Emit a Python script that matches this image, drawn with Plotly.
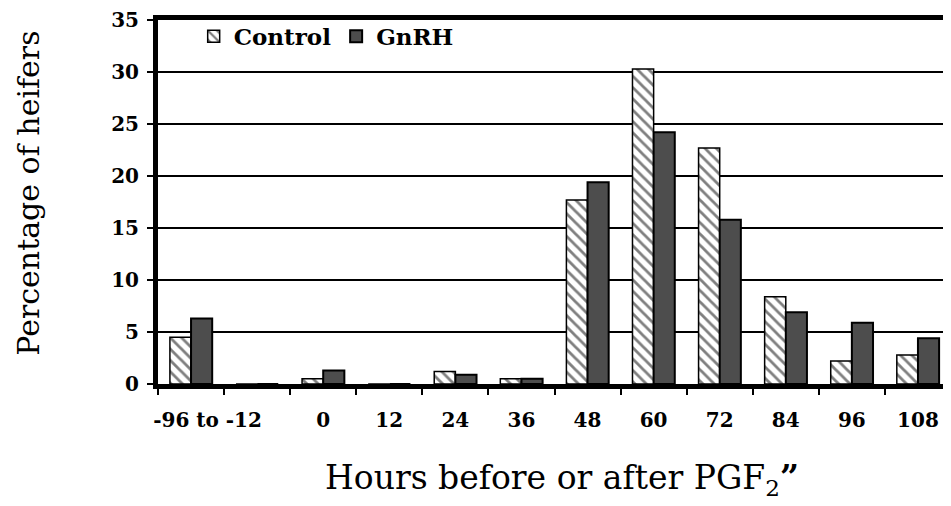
import plotly.graph_objects as go

# Category slots (one slot between "-96 to -12" and "0" is empty)
slots = [0, 1, 2, 3, 4, 5, 6, 7, 8, 9, 10, 11]
control = [4.5, 0, 0.5, 0, 1.2, 0.5, 17.7, 30.3, 22.7, 8.4, 2.2, 2.8]
gnrh = [6.3, 0, 1.3, 0, 0.9, 0.5, 19.4, 24.2, 15.8, 6.9, 5.9, 4.4]

tick_positions = [0.25, 2, 3, 4, 5, 6, 7, 8, 9, 10, 11]
tick_labels = ["-96 to -12", "0", "12", "24", "36", "48", "60", "72", "84", "96", "108"]
y_ticks = [0, 5, 10, 15, 20, 25, 30, 35]

serif = "DejaVu Serif, serif"

fig = go.Figure()
fig.add_trace(go.Bar(
    x=slots, y=control, name="Control",
    marker=dict(color="white", line=dict(color="black", width=1.5),
                pattern=dict(shape="\\", fgcolor="black", bgcolor="white",
                             size=8, solidity=0.35)),
))
fig.add_trace(go.Bar(
    x=slots, y=gnrh, name="GnRH",
    marker=dict(color="#4d4d4d", line=dict(color="black", width=2)),
))

# The page body has an 8px margin, so the figure is sized to fill the window
fig.update_layout(
    width=943, height=498,
    margin=dict(l=150, r=0, t=7, b=122),
    paper_bgcolor="white", plot_bgcolor="white",
    barmode="group", bargap=0.36, bargroupgap=0,
    font=dict(family=serif, color="black"),
    legend=dict(orientation="h", x=0.045, y=0.955, xanchor="left", yanchor="middle",
                font=dict(family=serif, size=23, color="black", weight="bold"),
                bgcolor="rgba(0,0,0,0)", itemwidth=30, traceorder="normal"),
    xaxis=dict(
        range=[-0.5, 11.5], tickmode="array", tickvals=tick_positions, ticktext=tick_labels,
        ticks="", showgrid=False, zeroline=False,
        showline=True, linecolor="black", linewidth=5, mirror=True,
        tickfont=dict(family=serif, size=20, color="black", weight="bold"),
        ticklabelstandoff=14,
        minor=dict(tickmode="linear", tick0=0.5, dtick=1, ticks="outside",
                   ticklen=6, tickcolor="black", tickwidth=2, showgrid=False),
    ),
    yaxis=dict(
        range=[0, 35], tickmode="array", tickvals=y_ticks,
        ticks="outside", ticklen=6, tickcolor="black", tickwidth=2,
        showgrid=True, gridcolor="black", gridwidth=2, zeroline=False,
        showline=True, linecolor="black", linewidth=5,
        ticklabelstandoff=4, ticklabeloverflow="allow",
        tickfont=dict(family=serif, size=20, color="black", weight="bold"),
    ),
)

fig.add_annotation(
    text="Percentage of heifers", xref="paper", yref="paper",
    x=-0.163, y=0.525, xanchor="center", yanchor="middle",
    textangle=-90, showarrow=False,
    font=dict(family=serif, size=30, color="black"),
)
fig.add_annotation(
    text="Hours before or after PGF<sub>2</sub><b>\u201d</b>", xref="paper", yref="paper",
    x=0.51, y=-0.262, xanchor="center", yanchor="middle", showarrow=False,
    font=dict(family=serif, size=33, color="black"),
)

fig.write_html("out.html")
